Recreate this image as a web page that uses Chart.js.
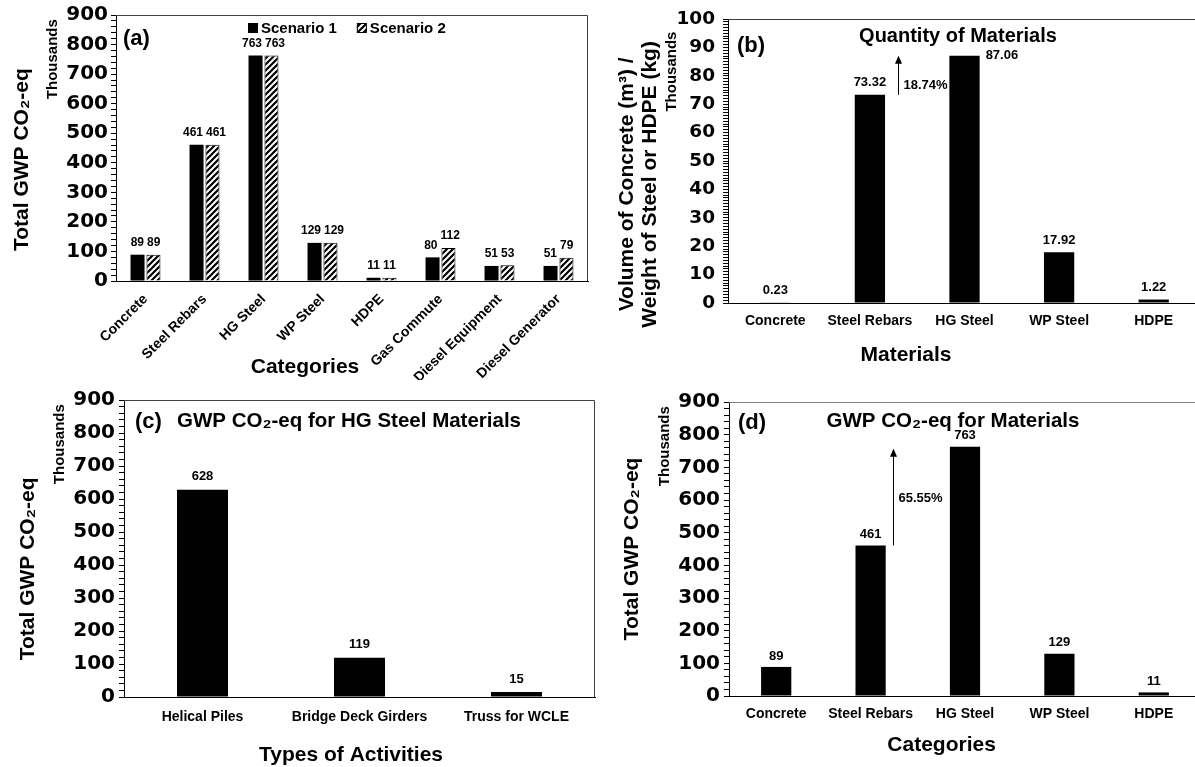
<!DOCTYPE html>
<html>
<head>
<meta charset="utf-8">
<title>GWP CO2-eq charts</title>
<script src="https://cdn.jsdelivr.net/npm/chart.js@4.4.1/dist/chart.umd.min.js"></script>
<style>
  html, body { margin: 0; padding: 0; background: #fff; overflow: hidden; }
  body { position: relative; width: 1195px; height: 767px; }
  canvas { position: absolute; }
</style>
</head>
<body>
<canvas id="chartA" width="600" height="380" style="left:0;top:0"></canvas>
<canvas id="chartB" width="615" height="380" style="left:600px;top:0"></canvas>
<canvas id="chartC" width="600" height="387" style="left:0;top:380px"></canvas>
<canvas id="chartD" width="615" height="387" style="left:600px;top:380px"></canvas>
<script>
const FONT = "'Liberation Sans', Arial, Helvetica, sans-serif";
const TICK_FONT = "'DejaVu Sans', 'Liberation Sans', Arial, sans-serif";

// (a) total GWP per category, thousands
const categories = ['Concrete', 'Steel Rebars', 'HG Steel', 'WP Steel', 'HDPE', 'Gas Commute', 'Diesel Equipment', 'Diesel Generator'];
const scenario1 = [89, 461, 763, 129, 11, 80, 51, 51];
const scenario2 = [89, 461, 763, 129, 11, 112, 53, 79];

// (b) quantity of materials, thousands
const materials = ['Concrete', 'Steel Rebars', 'HG Steel', 'WP Steel', 'HDPE'];
const quantity = [0.23, 73.32, 87.06, 17.92, 1.22];

// (c) HG steel split by activity, thousands
const activities = ['Helical Piles', 'Bridge Deck Girders', 'Truss for WCLE'];
const hgSteelGwp = [628, 119, 15];

// (d) GWP for materials, thousands
const materialGwp = [89, 461, 763, 129, 11];

// rebar -> HG steel increase notes
const qtyIncrease = '18.74%';
const gwpIncrease = '65.55%';

function hatch() {
  const t = document.createElement('canvas');
  t.width = 6; t.height = 6;
  const g = t.getContext('2d');
  g.fillStyle = '#fff'; g.fillRect(0, 0, 6, 6);
  g.strokeStyle = '#000'; g.lineWidth = 2.2;
  g.beginPath();
  g.moveTo(-1, 7); g.lineTo(7, -1);
  g.moveTo(-1, 1); g.lineTo(1, -1);
  g.moveTo(5, 7); g.lineTo(7, 5);
  g.stroke();
  return g.createPattern(t, 'repeat');
}

// frame, value labels, arrows, legend and free text
const decor = {
  id: 'decor',
  afterDraw(chart, args, o) {
    const { ctx, chartArea: a } = chart;
    ctx.save();
    ctx.strokeStyle = o.frame; ctx.lineWidth = 1;
    ctx.beginPath();
    ctx.moveTo(a.left, Math.round(a.top) + 0.5);
    ctx.lineTo(Math.round(a.right) - 0.5, Math.round(a.top) + 0.5);
    ctx.lineTo(Math.round(a.right) - 0.5, a.bottom);
    ctx.stroke();

    ctx.fillStyle = '#000';
    ctx.textBaseline = 'middle';
    ctx.font = 'bold ' + o.valueSize + 'px ' + FONT;
    const items = [];
    chart.data.datasets.forEach((ds, di) => {
      chart.getDatasetMeta(di).data.forEach((bar, i) => {
        const txt = o.format(ds.data[i]);
        const side = i === o.sideIndex;
        items.push({
          i: i, txt: txt, side: side,
          x: side ? bar.x + bar.width / 2 + 6 : bar.x,
          y: side ? bar.y : bar.y - o.valueGap,
          w: ctx.measureText(txt).width
        });
      });
    });
    // push paired labels apart when they collide
    if (chart.data.datasets.length === 2) {
      chart.data.labels.forEach((_, i) => {
        const p = items.filter(it => it.i === i);
        if (Math.abs(p[0].y - p[1].y) < o.valueSize) {
          const ov = (p[0].x + p[0].w / 2 + 3) - (p[1].x - p[1].w / 2);
          if (ov > 0) { p[0].x -= ov / 2; p[1].x += ov / 2; }
        }
      });
    }
    items.forEach(it => {
      ctx.textAlign = it.side ? 'left' : 'center';
      ctx.fillText(it.txt, it.x, it.y);
    });

    if (o.arrow) {
      const m = chart.getDatasetMeta(0).data;
      const b1 = m[o.arrow.from], b2 = m[o.arrow.to];
      const e1 = b1.x + b1.width / 2, s2 = b2.x - b2.width / 2;
      const x = Math.round(e1 + (s2 - e1) * o.arrow.at) + 0.5;
      const yTop = b2.y + o.arrow.tipGap, yBot = b1.y;
      ctx.strokeStyle = '#000';
      ctx.beginPath(); ctx.moveTo(x, yBot); ctx.lineTo(x, yTop + 6); ctx.stroke();
      ctx.beginPath(); ctx.moveTo(x, yTop); ctx.lineTo(x - 3.5, yTop + 8); ctx.lineTo(x + 3.5, yTop + 8);
      ctx.closePath(); ctx.fill();
      ctx.textAlign = 'left';
      ctx.fillText(o.arrow.text, x + 5, yBot + (yTop - yBot) * o.arrow.textAt);
    }

    if (o.legend) {
      ctx.font = 'bold 15px ' + FONT;
      ctx.textAlign = 'left';
      let x = a.left + o.legend.dx;
      const y = a.top + o.legend.dy;
      chart.data.datasets.forEach(ds => {
        ctx.fillStyle = ds.backgroundColor;
        ctx.fillRect(x, y - 5, 10, 10);
        if (ds.borderWidth) { ctx.strokeStyle = '#000'; ctx.strokeRect(x + 0.5, y - 4.5, 9, 9); }
        ctx.fillStyle = '#000';
        ctx.fillText(ds.label, x + 13, y + 1);
        x += 13 + ctx.measureText(ds.label).width + 20;
      });
    }

    (o.texts || []).forEach(t => {
      ctx.font = 'bold ' + t.size + 'px ' + FONT;
      ctx.textAlign = t.align || 'left';
      ctx.fillStyle = '#000';
      ctx.fillText(t.text, a.left + t.dx, a.top + t.dy);
    });
    ctx.restore();
  }
};

function scales(c) {
  return {
    x: {
      type: 'category',
      afterFit: s => { s.height = c.xHeight; },
      border: { display: true, color: '#000', width: 1 },
      grid: { display: false, drawTicks: false },
      ticks: {
        color: '#000', padding: c.xPad, autoSkip: false,
        minRotation: c.rot || 0, maxRotation: c.rot || 0,
        font: { family: FONT, size: 14, weight: 'bold' }
      }
    },
    y: {
      type: 'linear', min: 0, max: c.max, weight: 0,
      afterFit: s => { s.width = c.inner; },
      border: { display: true, color: '#000', width: 1 },
      grid: { drawOnChartArea: false, drawTicks: true, tickLength: 5, color: '#000' },
      ticks: {
        stepSize: c.minor, autoSkip: false, padding: c.tickPad, color: '#000',
        font: { family: TICK_FONT, size: c.tickSize, weight: 'bold' },
        callback: v => (v % c.major === 0 ? v : '')
      },
      title: {
        display: true, text: 'Thousands' + c.thTail, align: 'end', color: '#000',
        font: { family: FONT, size: 15, weight: 'bold', lineHeight: 1.2 },
        padding: { top: c.thPad, bottom: 0 }
      }
    },
    yTitle: {
      type: 'linear', position: 'left', weight: 1, min: 0, max: 1,
      afterFit: s => { s.width = c.outer; },
      border: { display: false }, grid: { display: false }, ticks: { display: false },
      title: {
        display: true, text: c.title, color: '#000',
        font: { family: FONT, size: 21, weight: 'bold', lineHeight: 1.1 },
        padding: { top: c.titlePad, bottom: 0 }
      }
    }
  };
}

function base(padding, sc, deco) {
  return {
    responsive: false,
    animation: false,
    layout: { padding: padding },
    scales: sc,
    plugins: { legend: { display: false }, tooltip: { enabled: false }, decor: deco }
  };
}

const bar = (label, data, extra) => Object.assign({
  label: label, data: data, backgroundColor: '#000', borderWidth: 0,
  categoryPercentage: 1, barPercentage: 0.32
}, extra || {});

// (a)
new Chart(document.getElementById('chartA'), {
  type: 'bar',
  data: {
    labels: categories,
    datasets: [
      bar('Scenario 1', scenario1, { categoryPercentage: 0.54, barPercentage: 0.88 }),
      bar('Scenario 2', scenario2, { categoryPercentage: 0.54, barPercentage: 0.88, backgroundColor: hatch(), borderColor: '#000', borderWidth: 1 })
    ]
  },
  options: base({ left: 0, top: 14, right: 12, bottom: 0 },
    scales({ xHeight: 99, xPad: 10, rot: 45, max: 900, minor: 20, major: 100, inner: 76, outer: 40,
             tickPad: 3, tickSize: 20, thPad: 3.5, thTail: ' ', title: 'Total GWP CO\u2082-eq    ', titlePad: 11 }),
    { frame: '#404040', valueSize: 12, valueGap: 12, format: v => String(v),
      legend: { dx: 132, dy: 13 },
      texts: [
        { text: '(a)', size: 22, dx: 7, dy: 24 },
        { text: 'Categories', size: 21, align: 'center', dx: 189, dy: 352 }
      ] }),
  plugins: [decor]
});

// (b)
new Chart(document.getElementById('chartB'), {
  type: 'bar',
  data: { labels: materials, datasets: [bar('Quantity', quantity)] },
  options: base({ left: 0, top: 14, right: 14, bottom: 0 },
    scales({ xHeight: 77, xPad: 10, max: 100, minor: 1, major: 10, inner: 68, outer: 60,
             tickPad: 8, tickSize: 18.5, thPad: 3, thTail: '   ', titlePad: 15.5,
             title: ['Volume of Concrete (m\u00B3) /        ', 'Weight of Steel or HDPE (kg)        '] }),
    { frame: '#404040', valueSize: 13, valueGap: 12, format: v => v.toFixed(2), sideIndex: 2,
      arrow: { from: 1, to: 2, at: 0.2, tipGap: 0, text: qtyIncrease, textAt: 0.25 },
      texts: [
        { text: '(b)', size: 22, dx: 9, dy: 27 },
        { text: 'Quantity of Materials', size: 20, align: 'center', dx: 230, dy: 17 },
        { text: 'Materials', size: 21, align: 'center', dx: 178, dy: 336 }
      ] }),
  plugins: [decor]
});

// (c)
new Chart(document.getElementById('chartC'), {
  type: 'bar',
  data: { labels: activities, datasets: [bar('HG Steel', hgSteelGwp, { barPercentage: 0.325 })] },
  options: base({ left: 0, top: 20, right: 5, bottom: 0 },
    scales({ xHeight: 70, xPad: 12, max: 900, minor: 20, major: 100, inner: 80, outer: 44,
             tickPad: 4, tickSize: 20, thPad: 7, thTail: ' ', title: 'Total GWP CO\u2082-eq       ', titlePad: 16.5 }),
    { frame: '#404040', valueSize: 13, valueGap: 13, format: v => String(v),
      texts: [
        { text: '(c)', size: 22, dx: 11, dy: 22 },
        { text: 'GWP CO\u2082-eq for HG Steel Materials', size: 20.5, dx: 53, dy: 21 },
        { text: 'Types of Activities', size: 21, align: 'center', dx: 227, dy: 355 }
      ] }),
  plugins: [decor]
});

// (d)
new Chart(document.getElementById('chartD'), {
  type: 'bar',
  data: { labels: materials, datasets: [bar('GWP', materialGwp)] },
  options: base({ left: 0, top: 22, right: 14, bottom: 0 },
    scales({ xHeight: 71, xPad: 10, max: 900, minor: 20, major: 100, inner: 81, outer: 48,
             tickPad: 4, tickSize: 20, thPad: 8, thTail: ' ', title: 'Total GWP CO\u2082-eq', titlePad: 20.5 }),
    { frame: '#808080', valueSize: 13, valueGap: 11, format: v => String(v),
      arrow: { from: 1, to: 2, at: 0.12, tipGap: 2, text: gwpIncrease, textAt: 0.49 },
      texts: [
        { text: '(d)', size: 22, dx: 9, dy: 20.5 },
        { text: 'GWP CO\u2082-eq for Materials', size: 20.5, align: 'center', dx: 224, dy: 19.5 },
        { text: 'Categories', size: 21, align: 'center', dx: 212.6, dy: 343 }
      ] }),
  plugins: [decor]
});
</script>
</body>
</html>
